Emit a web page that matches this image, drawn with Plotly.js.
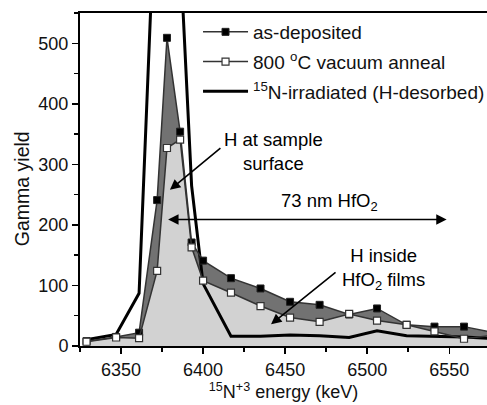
<!DOCTYPE html>
<html>
<head>
<meta charset="utf-8">
<script src="https://cdn.plot.ly/plotly-3.0.1.min.js"></script>
<style>
html,body{margin:0;padding:0;background:#fff;}
#chart{width:487px;height:405px;}
</style>
</head>
<body>
<div id="chart"></div>
<script>
// Energies (keV) and gamma yields
const energy = [6329, 6347, 6361, 6372, 6378, 6386, 6393, 6400, 6417, 6435, 6453, 6471, 6489, 6506, 6524, 6541, 6559, 6577];
const asDeposited = [8, 15, 22, 241, 509, 354, 171, 141, 112, 95, 73, 68, 52, 62, 35, 32, 32, 22];
const annealed = [7, 14, 13, 124, 327, 341, 163, 108, 88, 66, 47, 40, 53, 42, 35, 24, 12, 18];
const energyIrr = [6328, 6347, 6361, 6377, 6393, 6400, 6417, 6435, 6453, 6471, 6489, 6506, 6524, 6541, 6559, 6577];
const irradiated = [10, 19, 87, 1150, 265, 103, 16, 16, 18, 17, 14, 25, 17, 16, 15, 12];

const seriesNames = ['as-deposited', '800 <sup>o</sup>C vacuum anneal', '<sup>15</sup>N-irradiated (H-desorbed)'];
const xTitle = '<sup>15</sup>N<sup>+3</sup> energy (keV)';
const yTitle = 'Gamma yield';

const FONT = '"Liberation Sans", Arial, Helvetica, sans-serif';

const traces = [
  {x: energy, y: asDeposited, type: 'scatter', mode: 'none', fill: 'tozeroy',
   fillcolor: '#727272', showlegend: false, hoverinfo: 'skip'},
  {x: energy, y: annealed, type: 'scatter', mode: 'none', fill: 'tozeroy',
   fillcolor: '#d2d2d2', showlegend: false, hoverinfo: 'skip'},
  {x: energyIrr, y: irradiated, type: 'scatter', mode: 'lines', name: seriesNames[2],
   line: {color: '#000', width: 3}, legendgroup: 'c', legendrank: 3},
  {x: energy, y: asDeposited, type: 'scatter', mode: 'lines+markers', name: seriesNames[0],
   line: {color: '#333', width: 1.5},
   marker: {symbol: 'square', size: 7, color: '#000', line: {color: '#222', width: 1}},
   legendgroup: 'a', legendrank: 1},
  {x: energy, y: annealed, type: 'scatter', mode: 'lines+markers', name: seriesNames[1],
   line: {color: '#333', width: 1.5},
   marker: {symbol: 'square', size: 7, color: '#fff', line: {color: '#333', width: 1.2}},
   legendgroup: 'b', legendrank: 2}
];

const layout = {
  width: 487, height: 405,
  margin: {l: 80, r: 0, t: 13, b: 59, autoexpand: false},
  paper_bgcolor: '#fff', plot_bgcolor: '#fff',
  font: {family: FONT, size: 18, color: '#111'},
  showlegend: true,
  legend: {x: 0.29, y: 1.0, xanchor: 'left', yanchor: 'top', bgcolor: 'rgba(0,0,0,0)',
           font: {size: 19}, traceorder: 'grouped', tracegroupgap: 2, itemwidth: 45},
  xaxis: {range: [6325, 6573], tickvals: [6350, 6400, 6450, 6500, 6550],
          showline: true, linecolor: '#000', linewidth: 2, mirror: true,
          ticks: 'outside', ticklen: 6, tickwidth: 1.5, tickcolor: '#000',
          minor: {dtick: 25, tick0: 6325, ticks: 'outside', ticklen: 4, tickwidth: 1.5, tickcolor: '#000'},
          showgrid: false, zeroline: false,
          tickfont: {size: 18},
          title: {text: xTitle, font: {size: 18}, standoff: 7}},
  yaxis: {range: [0, 550], tickvals: [0, 100, 200, 300, 400, 500],
          showline: true, linecolor: '#000', linewidth: 2,
          ticks: 'outside', ticklen: 6, tickwidth: 1.5, tickcolor: '#000',
          minor: {dtick: 50, ticks: 'outside', ticklen: 4, tickwidth: 1.5, tickcolor: '#000'},
          showgrid: false, zeroline: false,
          tickfont: {size: 18}},
  annotations: [
    {x: -0.1425, y: 0.471, xref: 'paper', yref: 'paper', xanchor: 'center', yanchor: 'middle',
     text: yTitle, textangle: -90,
     showarrow: false, font: {size: 19.5, color: '#111'}},
    {x: 6379.8, y: 258, xref: 'x', yref: 'y', text: '', showarrow: true,
     ax: 52, ay: -43, arrowhead: 2, arrowsize: 1.3, arrowwidth: 1.6, arrowcolor: '#000'},
    {x: 6443, y: 321, xref: 'x', yref: 'y', text: 'H at sample<br>surface', showarrow: false,
     font: {size: 18.5, color: '#000'}},
    {x: 6548.4, y: 209, ax: 6377.8, ay: 209, xref: 'x', yref: 'y', axref: 'x', ayref: 'y',
     text: '', showarrow: true, arrowside: 'end+start', arrowhead: 2, arrowsize: 1.3,
     arrowwidth: 1.6, arrowcolor: '#000'},
    {x: 6477, y: 238, xref: 'x', yref: 'y', text: '73 nm HfO<sub>2</sub>', showarrow: false,
     font: {size: 18.5, color: '#000'}},
    {x: 6441.4, y: 36, xref: 'x', yref: 'y', text: '', showarrow: true,
     ax: 66, ay: -53, arrowhead: 2, arrowsize: 1.3, arrowwidth: 1.6, arrowcolor: '#000'},
    {x: 6510, y: 128, xref: 'x', yref: 'y', text: 'H inside<br>HfO<sub>2</sub> films', showarrow: false,
     font: {size: 18.5, color: '#000'}}
  ]
};

Plotly.newPlot('chart', traces, layout, {displayModeBar: false, staticPlot: true});
</script>
</body>
</html>
